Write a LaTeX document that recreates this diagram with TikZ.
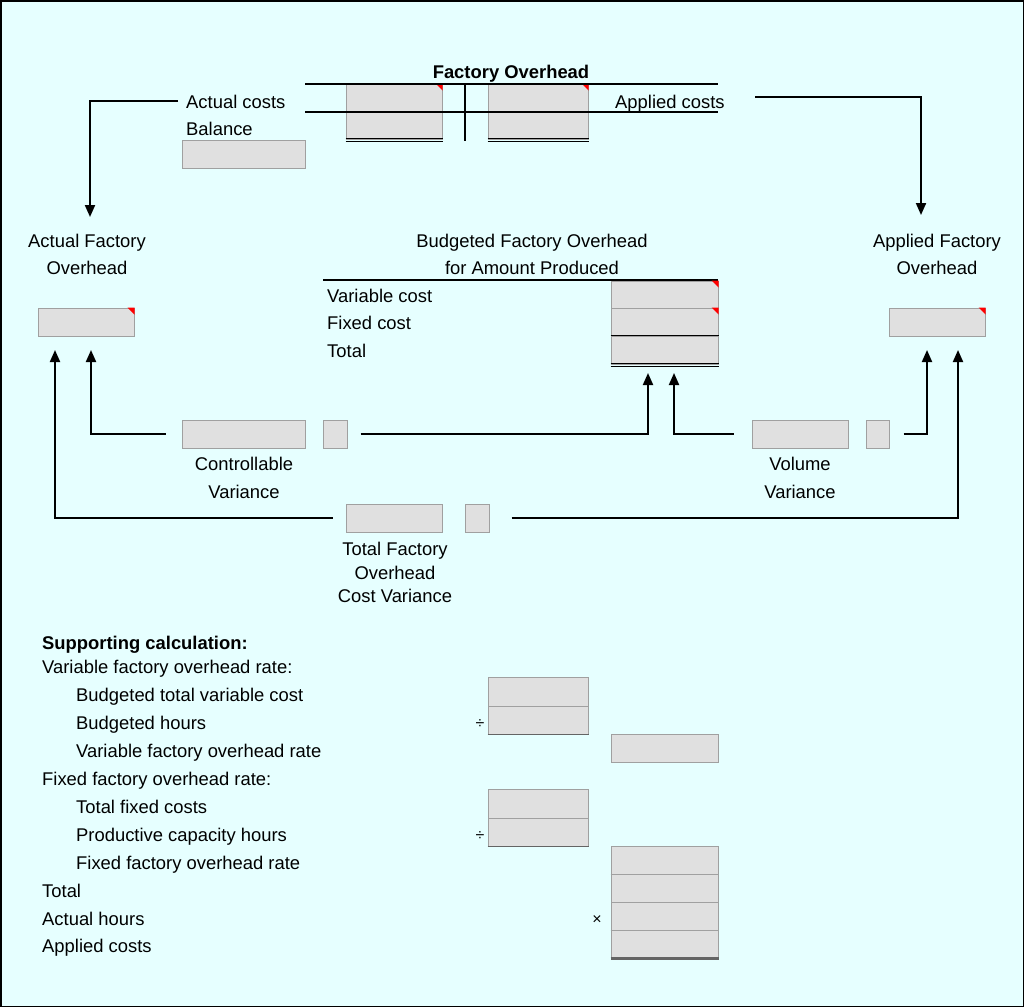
\documentclass[tikz,border=0pt]{standalone}
\usepackage{fontspec}
\setmainfont{Liberation Sans}
\usetikzlibrary{arrows.meta}
\definecolor{bg}{RGB}{230,255,255}
\definecolor{cellfill}{RGB}{224,224,224}
\definecolor{cellline}{RGB}{160,160,160}
\definecolor{darkline}{RGB}{100,100,100}
\newcommand\cellbox[5]{\node[cell, minimum width={#4-#2}, minimum height={#5-#3}] (#1) at ({(#2+#4)/2},{(#3+#5)/2}) {};}
\newcommand\redflag[1]{\fill[red] (#1.north east) -- ++(-7,0) -- ++(7,7) -- cycle;}
\newcommand\dblline[1]{\draw[line width=0.9pt] ([yshift=0.6pt]#1.south west) -- ([yshift=0.6pt]#1.south east);
  \draw[line width=0.9pt] ([yshift=-1.8pt]#1.south west) -- ([yshift=-1.8pt]#1.south east);}
\newcommand\darkbottom[2]{\draw[darkline, line width=#2] (#1.south west) -- (#1.south east);}
\begin{document}
\begin{tikzpicture}[x=1pt,y=-1pt,
  every node/.style={font=\fontsize{18.4}{27}\selectfont, inner sep=0pt, text=black},
  txt/.style={anchor=base west},
  ctxt/.style={anchor=base, align=center},
  cell/.style={draw=cellline, fill=cellfill, line width=1pt, rectangle, inner sep=0pt},
  conn/.style={line width=2pt, -{Triangle[width=10pt,length=12pt]}},
  symb/.style={font=\fontsize{16}{18}\selectfont}]
\useasboundingbox (0,0) rectangle (1024,1007);
\fill[bg] (0,0) rectangle (1024,1007);
\draw[line width=1.5pt] (0.75,0.75) rectangle (1023.25,1006.25);

% ---- T account
\node[ctxt, font=\fontsize{18.4}{27}\selectfont\bfseries] (title) at (511,78.5) {Factory Overhead};
\cellbox{tl}{346}{84}{442}{139}
\cellbox{tr}{488}{84}{588}{139}
\redflag{tl}\redflag{tr}
\dblline{tl}\dblline{tr}
\draw[line width=2pt] (305,84) -- (718,84);
\draw[line width=1.2pt] (305,112) -- (718,112);
\draw[line width=2pt] (465,84) -- (465,141);
\node[txt] (actual) at (186,108) {Actual costs};
\node[txt] (balance) at (186,135) {Balance};
\node[txt] (applied) at (615,108) {Applied costs};
\cellbox{bal}{182}{140}{305}{168}

% ---- side accounts
\node[ctxt] (afolbl) at (87,274.5) {Actual Factory\\Overhead};
\node[ctxt] (apfolbl) at (937,274.5) {Applied Factory\\Overhead};
\cellbox{afo}{38}{308}{134}{336}\redflag{afo}
\cellbox{apfo}{889}{308}{985}{336}\redflag{apfo}

% ---- budget
\node[ctxt] (budlbl) at (532,274.5) {Budgeted Factory Overhead\\for Amount Produced};
\draw[line width=1.2pt] (323,280) -- (718,280);
\node[txt] (varc) at (327,302.5) {Variable cost};
\node[txt] (fixc) at (327,329.5) {Fixed cost};
\node[txt] (totc) at (327,357.5) {Total};
\cellbox{bv}{611}{281}{718}{308}\redflag{bv}
\cellbox{bf}{611}{308}{718}{336}\redflag{bf}
\cellbox{bt}{611}{336}{718}{364}
\draw[line width=1.2pt] (bt.north west) -- (bt.north east);
\dblline{bt}

% ---- variances
\cellbox{ctrl}{182}{420}{305}{448}
\cellbox{ctrlp}{323}{420}{347}{448}
\node[ctxt] (ctrllbl) at (244,498.5) {Controllable\\[1pt]Variance};
\cellbox{vol}{752}{420}{848}{448}
\cellbox{volp}{866}{420}{889}{448}
\node[ctxt] (vollbl) at (800,498.5) {Volume\\[1pt]Variance};
\cellbox{tot}{346}{504}{442}{532}
\cellbox{totp}{465}{504}{489}{532}
\node[ctxt, font=\fontsize{18.4}{23.5}\selectfont] (totlbl) at (395,602.5) {Total Factory\\Overhead\\Cost Variance};

% ---- connectors
\coordinate (afoIn) at (90,217);
\coordinate (apS) at (755,97);
\coordinate (apfoIn) at (921,215);
\coordinate (afoA) at (91,350);
\coordinate (afoB) at (55,350);
\coordinate (apfoA) at (927,350);
\coordinate (apfoB) at (958,350);
\coordinate (budA) at (648,373);
\coordinate (budB) at (674,373);
\draw[conn] ([xshift=-8pt]actual.west) -| (afoIn);
\draw[conn] (apS) -| (apfoIn);
\draw[conn] ([xshift=-16pt]ctrl.west) -| (afoA);
\draw[conn] ([xshift=13pt]ctrlp.east) -| (budA);
\draw[conn] ([xshift=-18pt]vol.west) -| (budB);
\draw[conn] ([xshift=14pt]volp.east) -| (apfoA);
\draw[conn] ([xshift=-13pt]tot.west) -| (afoB);
\draw[conn] ([xshift=22pt]totp.east) -| (apfoB);

% ---- supporting calculation
\node[txt, font=\fontsize{18.4}{27}\selectfont\bfseries] (sup) at (42,649.5) {Supporting calculation:};
\node[txt] (l1) at (42,673.5) {Variable factory overhead rate:};
\node[txt] (l2) at (76,701.5) {Budgeted total variable cost};
\node[txt] (l3) at (76,729.5) {Budgeted hours};
\node[txt] (l4) at (76,757.5) {Variable factory overhead rate};
\node[txt] (l5) at (42,785.5) {Fixed factory overhead rate:};
\node[txt] (l6) at (76,813.5) {Total fixed costs};
\node[txt] (l7) at (76,841.5) {Productive capacity hours};
\node[txt] (l8) at (76,869.5) {Fixed factory overhead rate};
\node[txt] (l9) at (42,897.5) {Total};
\node[txt] (l10) at (42,925.5) {Actual hours};
\node[txt] (l11) at (42,952.5) {Applied costs};

\cellbox{s1}{488}{677}{588}{706}
\cellbox{s2}{488}{706}{588}{734}\darkbottom{s2}{1.5pt}
\cellbox{s3}{611}{734}{718}{762}
\cellbox{s4}{488}{789}{588}{818}
\cellbox{s5}{488}{818}{588}{846}\darkbottom{s5}{1.5pt}
\cellbox{s6}{611}{846}{718}{874}\darkbottom{s6}{1.5pt}
\cellbox{s7}{611}{874}{718}{902}
\cellbox{s8}{611}{902}{718}{930}\darkbottom{s8}{1.5pt}
\cellbox{s9}{611}{930}{718}{958}\darkbottom{s9}{3pt}
\node[symb] (div1) at (480,724) {÷};
\node[symb] (div2) at (480,836) {÷};
\node[symb] (mul) at (597,920) {×};
\end{tikzpicture}
\end{document}
